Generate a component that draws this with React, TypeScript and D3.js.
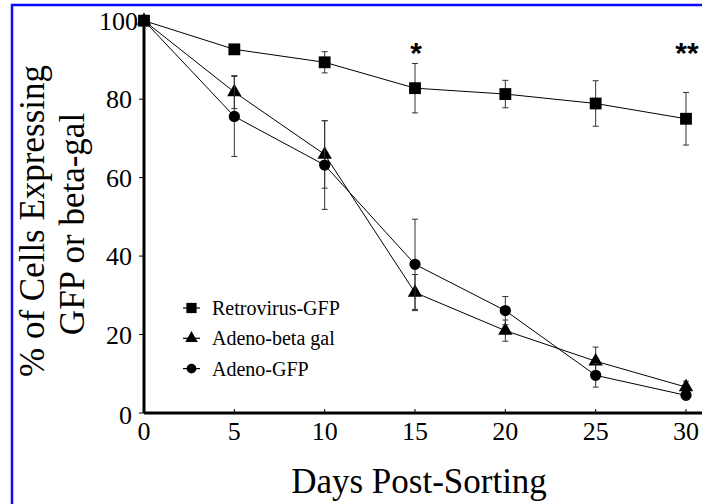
import React from 'react';
import * as d3 from 'd3';

const days = [0, 5, 10, 15, 20, 25, 30];
const retroGfp = [100, 92.7, 89.4, 82.8, 81.3, 78.9, 75.0];
const retroGfpErr = [0, 0.5, 2.7, 6.3, 3.5, 5.8, 6.7];
const adenoBetaGal = [100, 81.8, 65.9, 30.7, 21.0, 13.2, 6.6];
const adenoBetaGalErr = [0, 4.2, 8.6, 4.6, 2.7, 3.6, 1.5];
const adenoGfp = [100, 75.6, 63.2, 37.9, 26.1, 9.6, 4.5];
const adenoGfpErr = [0, 10.2, 11.3, 11.5, 3.6, 3.0, 1.0];
const xTicks = [0, 5, 10, 15, 20, 25, 30];
const yTicks = [0, 20, 40, 60, 80, 100];
const legendNames = ['Retrovirus-GFP', 'Adeno-beta gal', 'Adeno-GFP'];
const stars = [{ day: 15, text: '*' }, { day: 30, text: '**' }];

const W = 702, H = 504;
const SERIF = '"Liberation Serif", "Times New Roman", serif';

const x = d3.scaleLinear().domain([0, 30]).range([144, 686]);
const y = d3.scaleLinear().domain([0, 100]).range([413, 20.7]);

const series = [
  { name: legendNames[0], values: retroGfp, err: retroGfpErr, symbol: d3.symbolSquare, size: 140 },
  { name: legendNames[1], values: adenoBetaGal, err: adenoBetaGalErr, symbol: d3.symbolTriangle, size: 90 },
  { name: legendNames[2], values: adenoGfp, err: adenoGfpErr, symbol: d3.symbolCircle, size: 100 },
];

const line = d3.line<number>()
  .x((_, i) => x(days[i]))
  .y(d => y(d));

export default function App() {
  return (
    <div style={{ position: 'absolute', left: 0, top: 0 }}>
      <svg width={W} height={H} style={{ display: 'block', background: '#fff' }}>
        {/* blue frame, top and left only */}
        <line x1={11} x2={W} y1={5} y2={5} stroke="#0a0aff" strokeWidth={2.5} />
        <line x1={12} x2={12} y1={4} y2={H} stroke="#0a0aff" strokeWidth={2.5} />

        {/* axes */}
        <line x1={x(0)} x2={W} y1={y(0)} y2={y(0)} stroke="#000" strokeWidth={3} />
        <line x1={x(0)} x2={x(0)} y1={y(100)} y2={y(0)} stroke="#000" strokeWidth={3} />
        {xTicks.map(t => (
          <g key={'x' + t}>
            <line x1={x(t)} x2={x(t)} y1={y(0)} y2={y(0) - 4} stroke="#000" strokeWidth={1} />
            <text x={x(t)} y={440} textAnchor="middle" fontFamily={SERIF} fontSize={26}>{t}</text>
          </g>
        ))}
        {yTicks.map(t => (
          <g key={'y' + t}>
            <line x1={x(0) - 5} x2={x(0)} y1={y(t)} y2={y(t)} stroke="#000" strokeWidth={1} />
            <text x={t === 100 ? 138 : 132} y={y(t) + (t === 0 ? 11 : 9)} textAnchor="end"
              fontFamily={SERIF} fontSize={26}>{t}</text>
          </g>
        ))}

        {/* axis titles */}
        <text x={419} y={493} textAnchor="middle" fontFamily={SERIF} fontSize={35}>Days Post-Sorting</text>
        <text transform="translate(44,221) rotate(-90)" textAnchor="middle" fontFamily={SERIF} fontSize={35}>
          % of Cells Expressing
        </text>
        <text transform="translate(84,224) rotate(-90)" textAnchor="middle" fontFamily={SERIF} fontSize={35}>
          GFP or beta-gal
        </text>

        {/* series */}
        {series.map(s => (
          <g key={s.name}>
            <path d={line(s.values) || ''} fill="none" stroke="#000" strokeWidth={1} />
            {s.values.map((v, i) => s.err[i] > 0 && (
              <g key={i} stroke="#333" strokeWidth={1}>
                <line x1={x(days[i])} x2={x(days[i])} y1={y(v + s.err[i])} y2={y(v - s.err[i])} />
                <line x1={x(days[i]) - 3} x2={x(days[i]) + 3} y1={y(v + s.err[i])} y2={y(v + s.err[i])} />
                <line x1={x(days[i]) - 3} x2={x(days[i]) + 3} y1={y(v - s.err[i])} y2={y(v - s.err[i])} />
              </g>
            ))}
            {s.values.map((v, i) => (
              <path key={'m' + i} transform={`translate(${x(days[i])},${y(v)})`}
                d={d3.symbol(s.symbol, s.size)() || ''} fill="#000" />
            ))}
          </g>
        ))}

        {/* significance marks */}
        {stars.map(s => (
          <text key={s.day} x={x(s.day) + 1} y={63} textAnchor="middle"
            fontFamily='"Liberation Sans", Arial, sans-serif' fontWeight="bold" fontSize={30}>{s.text}</text>
        ))}

        {/* legend */}
        {series.map((s, i) => {
          const ly = 308 + i * 30.3;
          return (
            <g key={'l' + s.name}>
              <line x1={183} x2={200} y1={ly} y2={ly} stroke="#000" strokeWidth={1.2} />
              <path transform={`translate(191.5,${ly})`} d={d3.symbol(s.symbol, s.size * 0.75)() || ''} fill="#000" />
              <text x={212} y={ly + 7} fontFamily={SERIF} fontSize={20}>{s.name}</text>
            </g>
          );
        })}
      </svg>
    </div>
  );
}
